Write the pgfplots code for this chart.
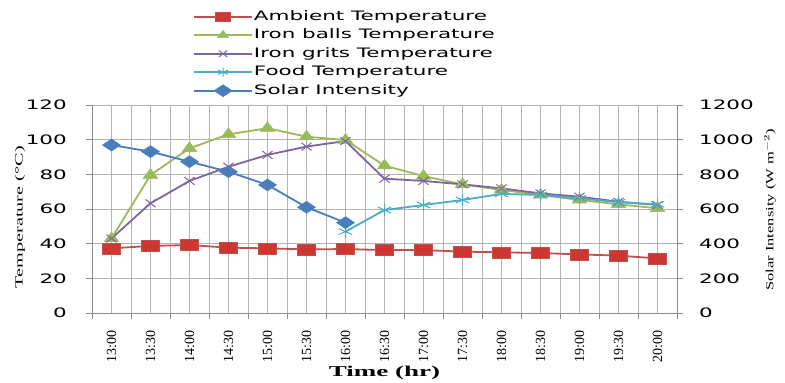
\documentclass[border=0pt]{standalone}
\usepackage{fontspec}
\setmainfont{Liberation Serif}
\newfontfamily\wide[FakeStretch=1.65]{DejaVu Sans}
\usepackage{graphicx}
\usepackage{pgfplots}
\pgfplotsset{compat=1.18}
\definecolor{ambc}{RGB}{192,80,77}
\definecolor{ambf}{RGB}{205,55,50}
\definecolor{ballc}{RGB}{155,187,89}
\definecolor{gritc}{RGB}{128,100,162}
\definecolor{foodc}{RGB}{75,172,198}
\definecolor{solc}{RGB}{74,126,187}
\definecolor{gridc}{RGB}{180,180,180}
\definecolor{axc}{RGB}{140,140,140}

\pgfplotstableread{
x amb ball grit
0 37.3 43.0 43.0
1 38.7 79.6 63.3
2 39.2 95.0 76.2
3 37.7 103.1 84.4
4 37.3 106.6 91.2
5 36.7 101.7 96.0
6 36.9 99.8 99.2
7 36.3 85.0 77.5
8 36.3 79.0 76.2
9 35.4 74.2 74.2
10 35.0 71.0 71.9
11 34.6 68.1 69.0
12 33.8 65.2 67.1
13 33.1 62.7 64.2
14 31.5 60.4 62.3
}\tempdata

\pgfplotstableread{
x food
6 47.0
7 59.4
8 62.3
9 65.2
10 68.7
11 68.1
12 66.2
13 63.9
14 62.7
}\fooddata

\pgfplotstableread{
x sol
0 969
1 931
2 873
3 815
4 739
5 610
6 521
}\soldata

\pgfplotsset{
  ambstyle/.style={ambc, line width=1.8pt, mark=square*, mark size=5.5pt, mark options={xscale=1.65, fill=ambf, draw=ambc, line width=0.6pt}},
  ballstyle/.style={ballc, line width=1.8pt, mark=triangle*, mark size=6.5pt, mark options={xscale=1.3, fill=ballc, draw=ballc, line width=0.5pt}},
  gritstyle/.style={gritc, line width=1.8pt, mark=x, mark size=5.5pt, mark options={xscale=1.3, draw=gritc, line width=1pt}},
  foodstyle/.style={foodc, line width=1.8pt, mark=asterisk, mark size=6pt, mark options={xscale=1.3, draw=foodc, line width=1pt}},
  solstyle/.style={solc, line width=1.8pt, mark=diamond*, mark size=6pt, mark options={xscale=2, fill=solc, draw=solc, line width=0.5pt}},
}

\begin{document}
\begin{tikzpicture}
\useasboundingbox (-92pt,-70pt) rectangle (693pt,313pt);
\begin{axis}[
  at={(0,0)}, anchor=south west,
  scale only axis, width=585pt, height=208pt,
  xmin=-0.5, xmax=14.5, ymin=0, ymax=120,
  xtick={0,...,14},
  xticklabels={13:00,13:30,14:00,14:30,15:00,15:30,16:00,16:30,17:00,17:30,18:00,18:30,19:00,19:30,20:00},
  minor xtick={-0.5,0.5,...,14.5},
  ytick={0,20,...,120},
  minor ytick={0,20,...,120},
  xmajorgrids, xminorgrids, ymajorgrids,
  major grid style={gridc, line width=0.7pt},
  minor grid style={gridc, line width=0.7pt},
  axis line style={axc, line width=0.8pt},
  tick style={axc, line width=0.8pt},
  tick align=outside,
  major tick length=0pt, minor tick length=6pt,
  axis y line*=left, axis x line*=bottom,
  /pgf/number format/assume math mode=true,
  yticklabel style={font=\wide\fontsize{13}{13}\selectfont, inner sep=0pt, anchor=east, xshift=-25pt},
  xticklabel style={font=\fontsize{14}{14}\selectfont, rotate=90, anchor=east, inner sep=0pt, xshift=-17pt},
  ylabel={\scalebox{1.84}[1]{\fontsize{11}{11}\selectfont Temperature (°C)}},
  ylabel style={at={(axis description cs:-0.123,0.46)}, anchor=center},
  xlabel={\scalebox{1.8}[1]{\bfseries\fontsize{15}{15}\selectfont Time (hr)}},
  xlabel style={at={(axis description cs:0.5,-0.288)}, anchor=center},
]
\addplot[ambstyle] table[x=x,y=amb] {\tempdata};
\addplot[ballstyle] table[x=x,y=ball] {\tempdata};
\addplot[gritstyle] table[x=x,y=grit] {\tempdata};
\addplot[foodstyle] table[x=x,y=food] {\fooddata};
\end{axis}
\begin{axis}[
  at={(0,0)}, anchor=south west,
  scale only axis, width=585pt, height=208pt,
  xmin=-0.5, xmax=14.5, ymin=0, ymax=1200,
  ytick={0,200,...,1200},
  hide x axis,
  axis y line*=right,
  axis line style={axc, line width=0.8pt},
  tick style={axc, line width=0.8pt},
  tick align=outside, major tick length=6pt,
  /pgf/number format/assume math mode=true,
  /pgf/number format/1000 sep={},
  yticklabel style={font=\wide\fontsize{13}{13}\selectfont, inner sep=0pt, anchor=west, xshift=16pt},
  ylabel={\scalebox{1.5}[1]{\fontsize{11}{11}\selectfont Solar Intensity (W m$^{-2}$)}},
  ylabel style={at={(axis description cs:1.159,0.495)}, anchor=center, rotate=0},
  legend image code/.code={\draw[mark repeat=2,mark phase=2,#1] plot coordinates {(0pt,0pt)(29pt,0pt)(58pt,0pt)};},
  legend style={at={(rel axis cs:0.1726,1.4615)}, anchor=north west, draw=none, fill=none,
    font=\wide\fontsize{13}{13}\selectfont, inner sep=0pt,
    nodes={inner sep=1pt, text height=10pt, text depth=3pt}, row sep=3.5pt},
  legend cell align=left,
]
\addlegendimage{ambstyle, mark size=4.5pt}
\addlegendentry{Ambient Temperature}
\addlegendimage{ballstyle, mark size=5pt}
\addlegendentry{Iron balls Temperature}
\addlegendimage{gritstyle, mark size=4.5pt}
\addlegendentry{Iron grits Temperature}
\addlegendimage{foodstyle, mark size=4.5pt}
\addlegendentry{Food Temperature}
\addplot[solstyle] table[x=x,y=sol] {\soldata};
\addlegendentry{Solar Intensity}
\end{axis}
\end{tikzpicture}
\end{document}
